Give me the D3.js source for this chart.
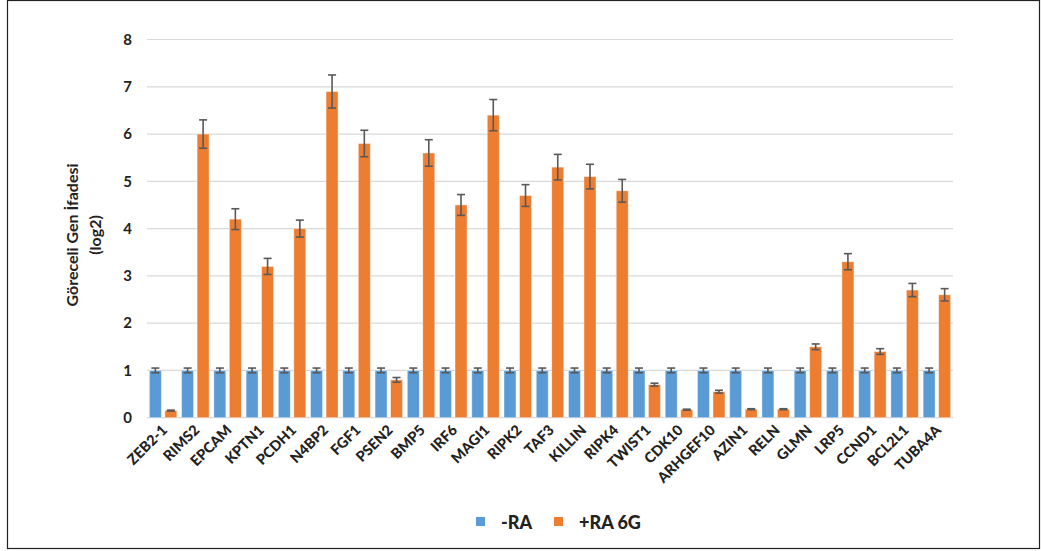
<!DOCTYPE html>
<html>
<head>
<meta charset="utf-8">
<script src="https://cdn.jsdelivr.net/npm/d3@7"></script>
<style>
  html, body { margin: 0; padding: 0; background: #fff; }
  svg { display: block; }
  text { font-family: Lato, "Open Sans", sans-serif; }
</style>
</head>
<body>
<svg id="chart" width="1041" height="551"></svg>
<script>
// Gene list and relative expression (log2), with standard error
const genes = ["ZEB2-1", "RIMS2", "EPCAM", "KPTN1", "PCDH1", "N4BP2", "FGF1", "PSEN2", "BMP5", "IRF6",
  "MAGI1", "RIPK2", "TAF3", "KILLIN", "RIPK4", "TWIST1", "CDK10", "ARHGEF10", "AZIN1", "RELN",
  "GLMN", "LRP5", "CCND1", "BCL2L1", "TUBA4A"];
const controlValues = [1, 1, 1, 1, 1, 1, 1, 1, 1, 1, 1, 1, 1, 1, 1, 1, 1, 1, 1, 1, 1, 1, 1, 1, 1];
const controlErrors = [0.05, 0.05, 0.05, 0.05, 0.05, 0.05, 0.05, 0.05, 0.05, 0.05, 0.05, 0.05, 0.05,
  0.05, 0.05, 0.05, 0.05, 0.05, 0.05, 0.05, 0.05, 0.05, 0.05, 0.05, 0.05];
const treatedValues = [0.15, 6.0, 4.2, 3.2, 4.0, 6.9, 5.8, 0.8, 5.6, 4.5,
  6.4, 4.7, 5.3, 5.1, 4.8, 0.7, 0.17, 0.55, 0.18, 0.18,
  1.5, 3.3, 1.4, 2.7, 2.6];
const treatedErrors = [0.01, 0.3, 0.22, 0.17, 0.18, 0.35, 0.28, 0.05, 0.28, 0.22,
  0.33, 0.23, 0.27, 0.26, 0.24, 0.03, 0.01, 0.03, 0.01, 0.01,
  0.06, 0.17, 0.06, 0.14, 0.13];
const yTicks = [0, 1, 2, 3, 4, 5, 6, 7, 8];
const seriesNames = ["-RA", "+RA 6G"];
const seriesColors = ["#5B9BD5", "#ED7D31"];

const svg = d3.select("#chart");

// Outer frame
svg.append("rect")
  .attr("x", 7.5).attr("y", 0.5).attr("width", 1032).attr("height", 548)
  .attr("fill", "none").attr("stroke", "#222").attr("stroke-width", 1.2);

const plot = { left: 147, right: 953, top: 39.5, bottom: 417.7 };

const x = d3.scaleBand().domain(genes).range([plot.left, plot.right]).paddingInner(0).paddingOuter(0);
const y = d3.scaleLinear().domain([0, 8]).range([plot.bottom, plot.top]);

const barW = 12;
const gap = 3.5;
const offsets = [-(gap / 2 + barW / 2), gap / 2 + barW / 2];

// Gridlines
svg.append("g").selectAll("line").data(yTicks).join("line")
  .attr("x1", plot.left).attr("x2", plot.right)
  .attr("y1", d => y(d)).attr("y2", d => y(d))
  .attr("stroke", "#d9d9d9").attr("stroke-width", 1.2);

// Y tick labels
svg.append("g").selectAll("text").data(yTicks).join("text")
  .attr("x", 132).attr("y", d => y(d)).attr("dy", "0.35em")
  .attr("text-anchor", "end")
  .attr("font-size", 15).attr("font-weight", "bold").attr("fill", "#222")
  .text(d => d);

const series = [
  { values: controlValues, errors: controlErrors },
  { values: treatedValues, errors: treatedErrors }
];

series.forEach((s, si) => {
  const g = svg.append("g");
  const rows = genes.map((gname, i) => ({ g: gname, v: s.values[i], e: s.errors[i] }));
  const cx = d => x(d.g) + x.bandwidth() / 2 + offsets[si];
  g.selectAll("rect").data(rows).join("rect")
    .attr("x", d => cx(d) - barW / 2)
    .attr("y", d => y(d.v))
    .attr("width", barW)
    .attr("height", d => y(0) - y(d.v))
    .attr("fill", seriesColors[si])
    .attr("stroke", "#fff").attr("stroke-opacity", 0.5).attr("stroke-width", 0.8);

  const eb = g.append("g").attr("stroke", "#595959").attr("stroke-width", 1.6);
  eb.selectAll("line.v").data(rows).join("line").attr("class", "v")
    .attr("x1", cx).attr("x2", cx)
    .attr("y1", d => y(d.v + d.e)).attr("y2", d => y(Math.max(0, d.v - d.e)));
  eb.selectAll("line.t").data(rows).join("line").attr("class", "t")
    .attr("x1", d => cx(d) - 4).attr("x2", d => cx(d) + 4)
    .attr("y1", d => y(d.v + d.e)).attr("y2", d => y(d.v + d.e));
  eb.selectAll("line.b").data(rows).join("line").attr("class", "b")
    .attr("x1", d => cx(d) - 4).attr("x2", d => cx(d) + 4)
    .attr("y1", d => y(Math.max(0, d.v - d.e))).attr("y2", d => y(Math.max(0, d.v - d.e)));
});

// X category labels
svg.append("g").selectAll("text").data(genes).join("text")
  .attr("transform", d => `translate(${x(d) + x.bandwidth() / 2 + 5},${431}) rotate(-45)`)
  .attr("text-anchor", "end")
  .attr("font-size", 14.5).attr("font-weight", "900").attr("fill", "#222")
  .text(d => d);

// Y axis title
const yt = svg.append("text")
  .attr("transform", "translate(0,235) rotate(-90)")
  .attr("text-anchor", "middle")
  .attr("font-size", 16).attr("font-weight", "bold").attr("fill", "#222");
yt.append("tspan").attr("x", 0).attr("y", 78).text("Göreceli Gen İfadesi");
yt.append("tspan").attr("x", 0).attr("y", 101).text("(log2)");

// Legend
const legendX = [476, 554];
const lg = svg.append("g");
seriesNames.forEach((name, i) => {
  lg.append("rect").attr("x", legendX[i]).attr("y", 517).attr("width", 9).attr("height", 9)
    .attr("fill", seriesColors[i]);
  lg.append("text").attr("x", legendX[i] + 25).attr("y", 529)
    .attr("font-size", 18).attr("font-weight", "900").attr("fill", "#222")
    .text(name);
});
</script>
</body>
</html>
